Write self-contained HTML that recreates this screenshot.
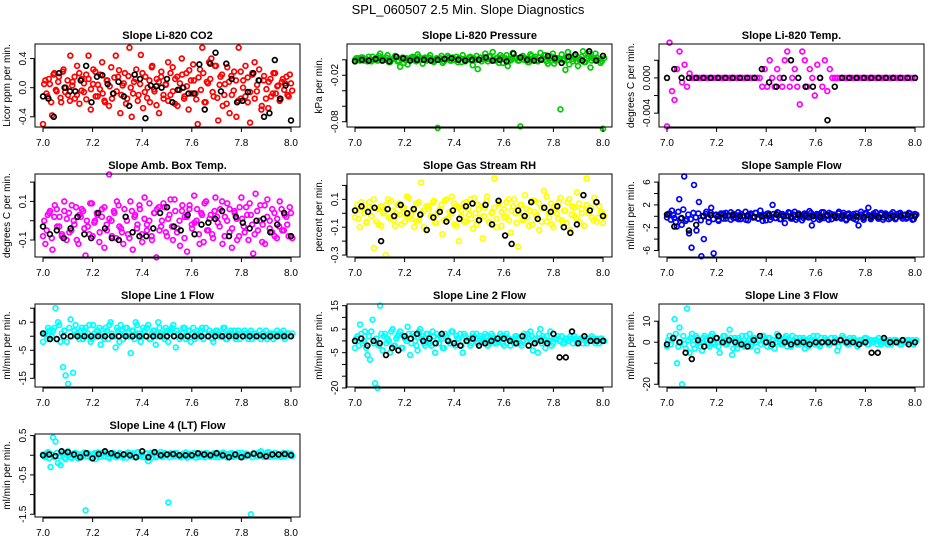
<!DOCTYPE html>
<html><head><meta charset="utf-8"><style>
html,body{margin:0;padding:0;background:#fff;}
svg{display:block;font-family:"Liberation Sans",Arial,sans-serif;}
</style></head><body>
<svg id="c" width="936" height="540" viewBox="0 0 936 540">
<text x="468" y="14" text-anchor="middle" font-size="13">SPL_060507  2.5 Min. Slope Diagnostics</text>
</svg>
<script>
const xTicks=[7.0,7.2,7.4,7.6,7.8,8.0];
const co2Vals=[-50,10,-12,5,-38,20,-5,15,-20,25,0,-10,44,8,-15,30,-22,12,-6,18,44,-30,5,22,-12,-2,35,-18,10,-25,28,-8,44,15,-35,3,20,-15,55,-40,8,25,-10,45,-28,15,0,-20,30,-5,12,-35,22,-15,5,35,-10,28,-22,15,-3,40,-15,20,-30,10,32,-8,-50,25,55,-20,8,35,40,-12,30,-45,15,-25,5,28,-35,-10,22,-40,55,-15,10,30,-20,-48,18,35,-5,25,-30,10,-15,-28,12,-8,20,2,-18,8,-3,15,-12,6];
const co2Vals2=[5,-8,12,-20,18,-3,8,-14,22,-6,10,-18,3,15,-10,20,-4,6,-16,12,-2,25,-12,4,18,-8,-20,10,2,-15,14,-5,24,-10,6,-22,16,0,-8,12,-18,5,20,-6,-14,10,28,-2,-24,8,15,-10,4,-18,20,-5,12,-25,6,18,-12,2,24,-8,10,-16,14,-3,20,-20,6,12,-6,30,-14,4,18,-10,-22,8,16,-4,10,-18,22,0,-12,14,-6,20,-15,4,10,-25,16,-2,8,-12,20,-8,3,-16,12,6,-10,18,-4];
const co2Black=[-12,-15,-40,20,0,-5,-5,10,30,-20,15,17,5,-8,8,-12,-25,18,12,-42,3,2,0,12,-20,-3,0,-8,-8,32,-30,33,48,-5,33,12,-20,-18,-6,20,10,-40,-35,38,-15,3,-45];
const presVals=[0,2,-1,3,1,-2,0,4,1,-1,8,2,0,6,-3,1,5,-2,-9,3,0,-6,2,4,-1,7,0,-5,3,1,6,-2,0,-88,2,-4,1,5,-1,3,0,-3,2,6,-2,1,4,-7,0,-12,3,1,8,-2,5,10,-1,3,6,-4,2,-8,1,9,3,-1,-86,5,2,-3,7,0,4,-2,9,1,6,-5,3,8,-1,2,-64,0,-13,10,4,-2,7,-8,1,11,-3,5,-10,2,8,0,-4,-89];
const presVals2=[2,0,3,-1,1,4,-2,0,2,5,-1,1,3,-3,0,2,4,-1,1,-4,2,0,3,1,-2,4,0,2,-1,3,1,-3,2,0,5,-2,1,3,-1,0,4,2,-3,1,0,3,-1,2,5,0,-2,3,1,4,-1,0,2,-4,3,1,6,-2,0,3,2,-1,4,0,1,-3,5,2,-1,3,0,6,-2,1,4,-5,2,0,7,-1,3,-6,1,5,-2,0,4,-3,2,8,-1,1,3,0,-2,2];
const presBlack=[-2,0,-1,1,-1,-2,4,2,-1,0,0,-1,0,1,2,0,-1,0,0,3,-1,0,-2,8,3,0,-1,0,5,2,-4,4,7,-1,11,-1,5];
const tempVals=[-55,40,-15,-25,10,30,-5,15,-10,5,0,0,0,0,0,0,0,0,0,0,0,0,0,0,0,0,0,0,0,0,0,0,0,0,0,0,0,0,-10,10,-10,20,0,-10,10,0,-10,20,30,-10,0,10,-10,-30,30,20,-10,10,0,-20,15,0,-10,20,-15,10,0,0,0,0,0,0,0,0,0,0,0,0,0,0,0,0,0,0,0,0,0,0,0,0,0,0,0,0,0,0,0,0,0,0];
const tempBlack=[0,10,0,0,0,0,0,0,0,0,0,0,0,10,-5,-10,0,20,0,-10,-10,0,-48,-10,0,0,0,0,0,0,0,0,0,0,0];
const ambVals=[-8,-12,3,5,-15,8,-3,2,-7,10,-10,4,-5,0,7,-12,2,5,-18,-3,9,-8,0,3,-6,6,-14,-2,24,0,5,-9,8,-4,-12,2,-7,10,-15,3,-2,6,-11,12,-5,0,-8,4,-19,7,-3,9,-6,1,11,-10,5,-4,-13,8,2,-16,6,-2,13,0,-7,4,-11,10,-5,3,-9,12,-1,6,-12,2,9,-6,-14,5,1,-8,12,-3,7,-10,3,-17,14,-5,8,-2,-12,11,0,-6,4,-9,-3,6,-5,2,-8,4];
const ambVals2=[0,-5,4,-9,2,6,-3,-8,5,1,-6,8,-2,-10,3,6,-4,0,-7,9,-1,4,-11,2,7,-5,1,-8,4,10,-3,-6,6,0,-9,5,2,-4,8,-7,1,-2,9,-10,4,6,-5,0,7,-8,3,-3,11,-6,0,5,-9,2,8,-4,-1,6,-12,3,9,-5,1,-7,5,2,-3,10,-8,0,6,-4,4,-10,7,1,-6,3,9,-2,-7,5,0,-11,8,2,-4,6,-8,1,10,-5,3,-2,7,-9];
const ambBlack=[-3,-7,-5,-9,-4,2,-7,-9,4,-4,-9,-10,2,-6,-8,-8,-4,4,7,-3,-5,3,-7,-2,-1,1,5,-8,2,-1,-4,0,1,-6,-2,4,-8];
const rhVals=[-3,6,-10,4,0,-6,8,-2,-25,3,-8,5,0,-30,10,-4,2,-9,6,-1,4,-6,12,-3,0,-10,7,-5,22,2,-12,5,-2,8,-7,0,3,-15,9,-4,1,12,-8,5,-20,-2,7,-6,3,10,-11,0,6,-3,-18,4,12,-7,1,25,-4,8,-9,3,-2,10,-14,5,0,-24,6,-5,13,-3,2,-8,9,-1,-12,4,16,-6,0,7,-10,3,-4,11,-7,2,8,-12,5,-2,15,-6,3,-9,25,0,4,-5,8,-3,1,-7];
const rhVals2=[2,-4,8,0,-7,5,-2,10,-6,3,-9,1,6,-3,9,-5,0,7,-8,4,-1,11,-4,2,-6,8,0,-10,5,3,-2,9,-7,1,6,-5,10,-3,0,7,-9,4,2,-6,8,-1,-4,11,-8,3,5,-2,9,-6,0,4,-10,7,1,-3,8,-5,2,10,-7,0,6,-4,3,-9,9,1,-2,7,-6,4,12,-3,-8,5,0,8,-5,2,-7,10,-1,4,-4,7,0,-9,6,2,-3,11,-6,5,1,-2];
const rhBlack=[2,5,1,4,-20,3,-2,6,0,3,-1,-12,-3,1,-6,2,-4,5,7,-5,6,-8,9,-16,-22,2,-2,8,-4,4,1,5,-10,-14,-8,13,2,8,-2];
const sampVals=[-2,5,10,-3,-18,30,-15,70,-5,-30,-55,55,-25,25,-70,-40,8,-10,15,-65,3,-8,5,-4,6,2,-6,4,-3,7,-5,1,8,-7,3,-2,6,-4,10,-8,2,5,-6,20,-3,7,-5,4,-12,1,6,-4,8,-2,3,-7,5,-1,9,-16,2,4,-6,7,-3,1,6,-5,3,-2,8,-4,2,-7,5,-1,4,-6,-16,8,-3,6,15,-5,2,7,-4,3,-6,5,1,-3,7,-5,2,6,-4,3,-2,5,-6,4];
const sampVals2=[4,-6,2,-10,8,-4,12,-8,3,-5,6,-2,5,-7,1,4,-3,6,-5,2,-6,3,5,-4,1,7,-3,2,-5,4,0,-6,3,5,-2,6,-4,1,3,-7,5,-1,4,-3,6,-5,2,0,7,-4,3,-6,5,1,-3,4,-2,6,-5,2,3,-4,7,0,-6,4,1,-3,5,-2,6,-5,3,1,-4,5,-1,3,-6,4,2,-3,5,0,-4,6,-2,3,-5,4,1,-3,5,-1,2,-4,6,0,-5,3];
const sampBlack=[3,-18,-3,-25,-15,0,2,0,1,2,0,1,-1,0,2,3,0,-1,3,1,0,-1,2,0,1,-2,0,-1,0,-1,1,0,1,2,0];
const l1Vals=[-2,1,3,-1,2,10,5,-2,-11,-14,-17,6,-13,4,0,2,-1,3,1,-2,4,0,2,-3,1,3,-1,5,0,-4,2,4,-1,3,0,-6,2,5,1,-2,3,0,4,-1,2,-3,5,1,0,3,-2,2,4,-4,1,0,3,-1,2,-2,3,1,0,2,-1,3,0,1,-2,2,1,0,3,-1,1,2,0,-1,2,1,0,1,-1,2,0,1,0,-1,1,2,0,1,-1,0,1,0,2,0,1,0];
const l1Vals2=[1,-1,2,0,3,-1,4,1,2,-2,3,0,2,1,-1,3,2,0,4,-1,1,2,3,0,-1,2,4,1,0,3,-2,2,1,3,0,2,-1,4,1,0,2,3,-1,1,2,0,3,1,-1,2,1,3,0,2,-1,1,3,0,2,1,-1,2,0,3,1,0,2,-1,1,2,0,1,3,-1,1,0,2,1,-1,1,2,0,1,-1,1,0,2,1,0,-1,1,1,0,2,0,1,-1,1,0,1];
const l1Black=[1,-1,-1,0,0,0,0,0,0,0,0,0,0,0,0,0,0,0,0,0,0,0,0,0,0,0,0,0,0,0,0,0,0,0,0,0,0];
const l2Vals=[-3,2,7,-1,4,-6,-8,9,-18,-20,15,-4,3,1,-5,5,-2,2,4,-3,1,6,-6,3,0,-4,5,2,-2,3,-1,4,-5,1,2,-3,3,0,-1,4,-2,1,3,-5,2,0,-2,3,1,-1,2,0,3,-2,1,2,-1,0,3,-1,2,1,-2,0,2,1,-1,0,2,3,4,-4,1,-5,5,2,-3,0,4,-1,1,2,0,-1,1,0,2,-1,1,0,1,-1,0,1,0,1,-1,0,1,0];
const l2Vals2=[1,-2,3,0,-3,2,4,-1,1,-2,3,2,-1,0,4,-2,1,3,-3,2,0,3,-1,2,-2,4,1,-1,3,0,-2,2,3,-1,1,-3,2,0,4,-1,2,1,-2,3,0,1,-1,2,3,-2,1,0,2,-1,3,1,-1,0,2,-2,3,1,0,-1,2,1,-2,3,0,1,2,-1,0,3,-1,1,2,0,-2,1,1,0,2,-1,1,0,1,2,-1,0,1,1,-1,0,2,0,1,-1,1,0];
const l2Black=[0,1,-2,0,-1,-6,-3,-4,2,1,3,0,1,-1,3,0,-1,-2,0,1,-2,-1,0,1,1,0,-1,2,-2,-1,0,-1,3,-7,-7,4,-1,2,0,0,0];
const l3Vals=[-2,3,1,11,-10,7,-20,-1,16,-5,4,-3,2,0,-4,3,1,-2,4,-1,2,-5,0,3,-1,6,-6,2,-3,1,3,-2,0,4,-1,2,-4,1,3,0,-2,2,1,-3,4,0,-1,2,-2,1,3,0,-1,2,1,-3,0,2,1,-1,3,-2,0,2,1,-1,0,2,-4,1,3,0,-1,2,0,1,-2,1,0,2,-1,1,0,1,-1,0,1,0,-1,1,0,1,0,-1,1,0,1,0,1,0];
const l3Vals2=[1,-1,2,4,-2,0,3,-3,1,2,-1,3,0,-2,2,1,-1,3,0,2,-2,1,3,-1,0,2,-3,1,2,0,-1,3,1,-2,2,0,1,-1,3,0,2,-2,1,0,2,-1,1,3,0,-2,1,2,-1,0,2,1,-2,1,3,0,-1,2,0,1,-1,2,0,1,-2,1,2,0,-1,1,2,0,-1,1,0,2,-1,1,0,1,2,-1,0,1,0,-1,1,1,0,-1,1,0,1,0,-1,1];
const l3Black=[-1,2,0,-5,-8,1,-2,1,2,0,1,0,-1,-2,1,3,0,-1,3,0,-1,0,0,-1,0,0,0,0,1,0,0,-1,0,-5,-5,2,0,0,1,-1,0];
const l4Vals=[0.02,-0.05,0.08,-0.3,0.45,0.35,-0.2,-0.25,0.05,-0.1,0.1,-0.05,0.03,0.06,-0.08,0,0.04,-1.4,0.05,-0.06,0.02,-0.1,0.07,-0.03,0.05,0.08,-0.05,0.02,0.06,-0.04,0,0.04,-0.06,0.03,0.07,-0.02,0.05,-0.05,0.08,0,-0.04,0.05,-0.15,0.06,0.02,-0.05,0.04,0.08,-0.03,0.02,-1.2,0.05,-0.02,0.06,0,-0.05,0.04,0.07,-0.03,0.02,0.05,-0.06,0,0.04,-0.02,0.06,0.03,-0.04,0.05,0,-0.05,0.04,0.07,-0.02,0.03,0.05,-0.04,0.02,0.06,0,-0.03,0.04,0.02,-1.5,0.05,-0.02,0.06,0.1,-0.04,0.03,0.08,0,-0.03,0.05,0.02,-0.04,0.06,0.03,0,0.04];
const l4Vals2=[-0.03,0.05,-0.08,0.02,-0.05,0.06,-0.02,0.04,-0.06,0.03,0,-0.07,0.05,-0.03,0.02,-0.05,0.07,-0.02,0.03,-0.06,0.05,0,-0.04,0.06,-0.03,0.02,-0.07,0.04,0,-0.05,0.06,-0.02,0.03,-0.06,0.05,0,-0.04,0.07,-0.03,0.02,-0.05,0.04,0,-0.06,0.05,-0.02,0.03,-0.04,0.06,0,-0.05,0.03,-0.02,0.05,-0.04,0.02,0,-0.06,0.04,-0.03,0.06,0,-0.04,0.03,-0.05,0.05,-0.02,0.02,-0.04,0.06,0,-0.03,0.04,-0.05,0.02,0.05,-0.02,0,-0.04,0.06,-0.03,0.03,0,-0.05,0.04,-0.02,0.05,0,-0.03,0.07,-0.04,0.02,0.06,-0.02,0,0.04,-0.03,0.05,0.02,-0.02];
const l4Black=[0,0.02,-0.02,0.1,0.08,0.02,-0.05,0.05,-0.08,0.03,0.1,0.05,0,0.02,0,-0.05,0.1,-0.05,0.08,0,0.02,0.03,0,0,0,0.05,0.02,0,0.05,0,-0.05,0.02,-0.05,0,0.04,0,-0.03,0.02,0.02,0.03,0];

const NS='http://www.w3.org/2000/svg';
const svg=document.getElementById('c');
function mk(tag,attrs,parent){const e=document.createElementNS(NS,tag);for(const k in attrs)e.setAttribute(k,attrs[k]);(parent||svg).appendChild(e);return e;}

function panel(p){
  const g=mk('g',{});
  
  
  const L=p.left,T=p.top,W=265,H=83;
  const xs=v=>L+8+(v-7)*248;
  const ys=v=>T+H-(v-p.ymin)/(p.ymax-p.ymin)*H;
  const t=mk('text',{x:L+W/2,y:T-5,'text-anchor':'middle','font-size':11,'font-weight':'bold'},g);
  t.textContent=p.title;
  
  
  const pts=mk('g',{fill:'none','stroke-width':1.7},g);
  
  
  const draw=(arr,col,off)=>{const n=arr.length;arr.forEach((v,i)=>{
    const c=mk('circle',{cx:xs(7+(i+off)/(n-1)),cy:ys(v*p.scale),r:2.4,stroke:col},pts);
    
    
  });};
  draw(p.vals,p.color,0);
  if(p.vals2) draw(p.vals2,p.color,0.5);
  draw(p.black,'#000',0);
  const box=mk('rect',{x:L,y:T,width:W,height:H,fill:'none',stroke:'#000','stroke-width':1},g);
  
  
  const xa=mk('g',{stroke:'#000'},g);
  
  
  mk('line',{x1:xs(7),x2:xs(8),y1:T+H+1,y2:T+H+1},xa);
  xTicks.forEach(v=>{
    mk('line',{x1:xs(v),x2:xs(v),y1:T+H,y2:T+H+5},xa);
    const tx=mk('text',{x:xs(v),y:T+H+19,'text-anchor':'middle','font-size':10,stroke:'none'},xa);
    tx.textContent=v.toFixed(1);
  });
  const ya=mk('g',{stroke:'#000'},g);
  
  
  const tk=p.ticks;
  mk('line',{x1:L-1,x2:L-1,y1:ys(tk[0]),y2:ys(tk[tk.length-1])},ya);
  tk.forEach(v=>{
    mk('line',{x1:L-5,x2:L,y1:ys(v),y2:ys(v)},ya);
  });
  p.labels.forEach((lab,i)=>{
    const y=ys(p.labelVals[i]);
    const tx=mk('text',{x:L-9,y:y,'text-anchor':'middle','font-size':10,stroke:'none',transform:`rotate(-90 ${L-9} ${y})`},ya);
    tx.textContent=lab;
  });
  const yt=mk('text',{x:L-25,y:T+H/2,'text-anchor':'middle','font-size':10,transform:`rotate(-90 ${L-25} ${T+H/2})`},g);
  yt.textContent=p.ylab;
  
  
}
const C=[35,347,659],R=[44,174,304,434];
panel({name:'co2',title:'Slope Li-820 CO2',left:C[0],top:R[0],ymin:-0.54,ymax:0.6,scale:0.01,vals:co2Vals,vals2:co2Vals2,black:co2Black,color:'#ff0000',ticks:[-0.4,0,0.4],labels:['-0.4','0.0','0.4'],labelVals:[-0.4,0,0.4],ylab:'Licor ppm per min.'});
panel({name:'pressure',title:'Slope Li-820 Pressure',left:C[1],top:R[0],ymin:-0.0868,ymax:0.0204,scale:0.001,vals:presVals,vals2:presVals2,black:presBlack,color:'#00cc00',ticks:[0,-0.02,-0.04,-0.06,-0.08],labels:['-0.02','-0.08'],labelVals:[-0.02,-0.08],ylab:'kPa per min.'});
panel({name:'li820-temp',title:'Slope Li-820 Temp.',left:C[2],top:R[0],ymin:-0.00557,ymax:0.00385,scale:0.0001,vals:tempVals,black:tempBlack,color:'#ff00ff',ticks:[0.002,0,-0.002,-0.004],labels:['0.000','-0.004'],labelVals:[0,-0.004],ylab:'degrees C per min.'});
panel({name:'amb-box-temp',title:'Slope Amb. Box Temp.',left:C[0],top:R[1],ymin:-0.188,ymax:0.242,scale:0.01,vals:ambVals,vals2:ambVals2,black:ambBlack,color:'#ff00ff',ticks:[0.2,0.1,0,-0.1],labels:['0.1','-0.1'],labelVals:[0.1,-0.1],ylab:'degrees C per min.'});
panel({name:'gas-stream-rh',title:'Slope Gas Stream RH',left:C[1],top:R[1],ymin:-0.314,ymax:0.282,scale:0.01,vals:rhVals,vals2:rhVals2,black:rhBlack,color:'#ffff00',ticks:[0.2,0.1,0,-0.1,-0.2,-0.3],labels:['0.1','-0.1','-0.3'],labelVals:[0.1,-0.1,-0.3],ylab:'percent per min.'});
panel({name:'sample-flow',title:'Slope Sample Flow',left:C[2],top:R[1],ymin:-7.14,ymax:7.42,scale:0.1,vals:sampVals,vals2:sampVals2,black:sampBlack,color:'#0000ff',ticks:[6,4,2,0,-2,-4,-6],labels:['6','2','-2','-6'],labelVals:[6,2,-2,-6],ylab:'ml/min per min.'});
panel({name:'line1-flow',title:'Slope Line 1 Flow',left:C[0],top:R[2],ymin:-18.1,ymax:11.5,scale:1,vals:l1Vals,vals2:l1Vals2,black:l1Black,color:'#00ffff',ticks:[10,5,0,-5,-10,-15],labels:['5','-5','-15'],labelVals:[5,-5,-15],ylab:'ml/min per min.'});
panel({name:'line2-flow',title:'Slope Line 2 Flow',left:C[1],top:R[2],ymin:-19.6,ymax:15.7,scale:1,vals:l2Vals,vals2:l2Vals2,black:l2Black,color:'#00ffff',ticks:[15,10,5,0,-5,-10,-15,-20],labels:['15','5','-5','-20'],labelVals:[15,5,-5,-20],ylab:'ml/min per min.'});
panel({name:'line3-flow',title:'Slope Line 3 Flow',left:C[2],top:R[2],ymin:-21.3,ymax:18.2,scale:1,vals:l3Vals,vals2:l3Vals2,black:l3Black,color:'#00ffff',ticks:[10,0,-10,-20],labels:['10','0','-20'],labelVals:[10,0,-20],ylab:'ml/min per min.'});
panel({name:'line4-flow',title:'Slope Line 4 (LT) Flow',left:C[0],top:R[3],ymin:-1.57,ymax:0.54,scale:1,vals:l4Vals,vals2:l4Vals2,black:l4Black,color:'#00ffff',ticks:[0.5,0,-0.5,-1,-1.5],labels:['0.5','-0.5','-1.5'],labelVals:[0.5,-0.5,-1.5],ylab:'ml/min per min.'});
</script>
</body></html>
